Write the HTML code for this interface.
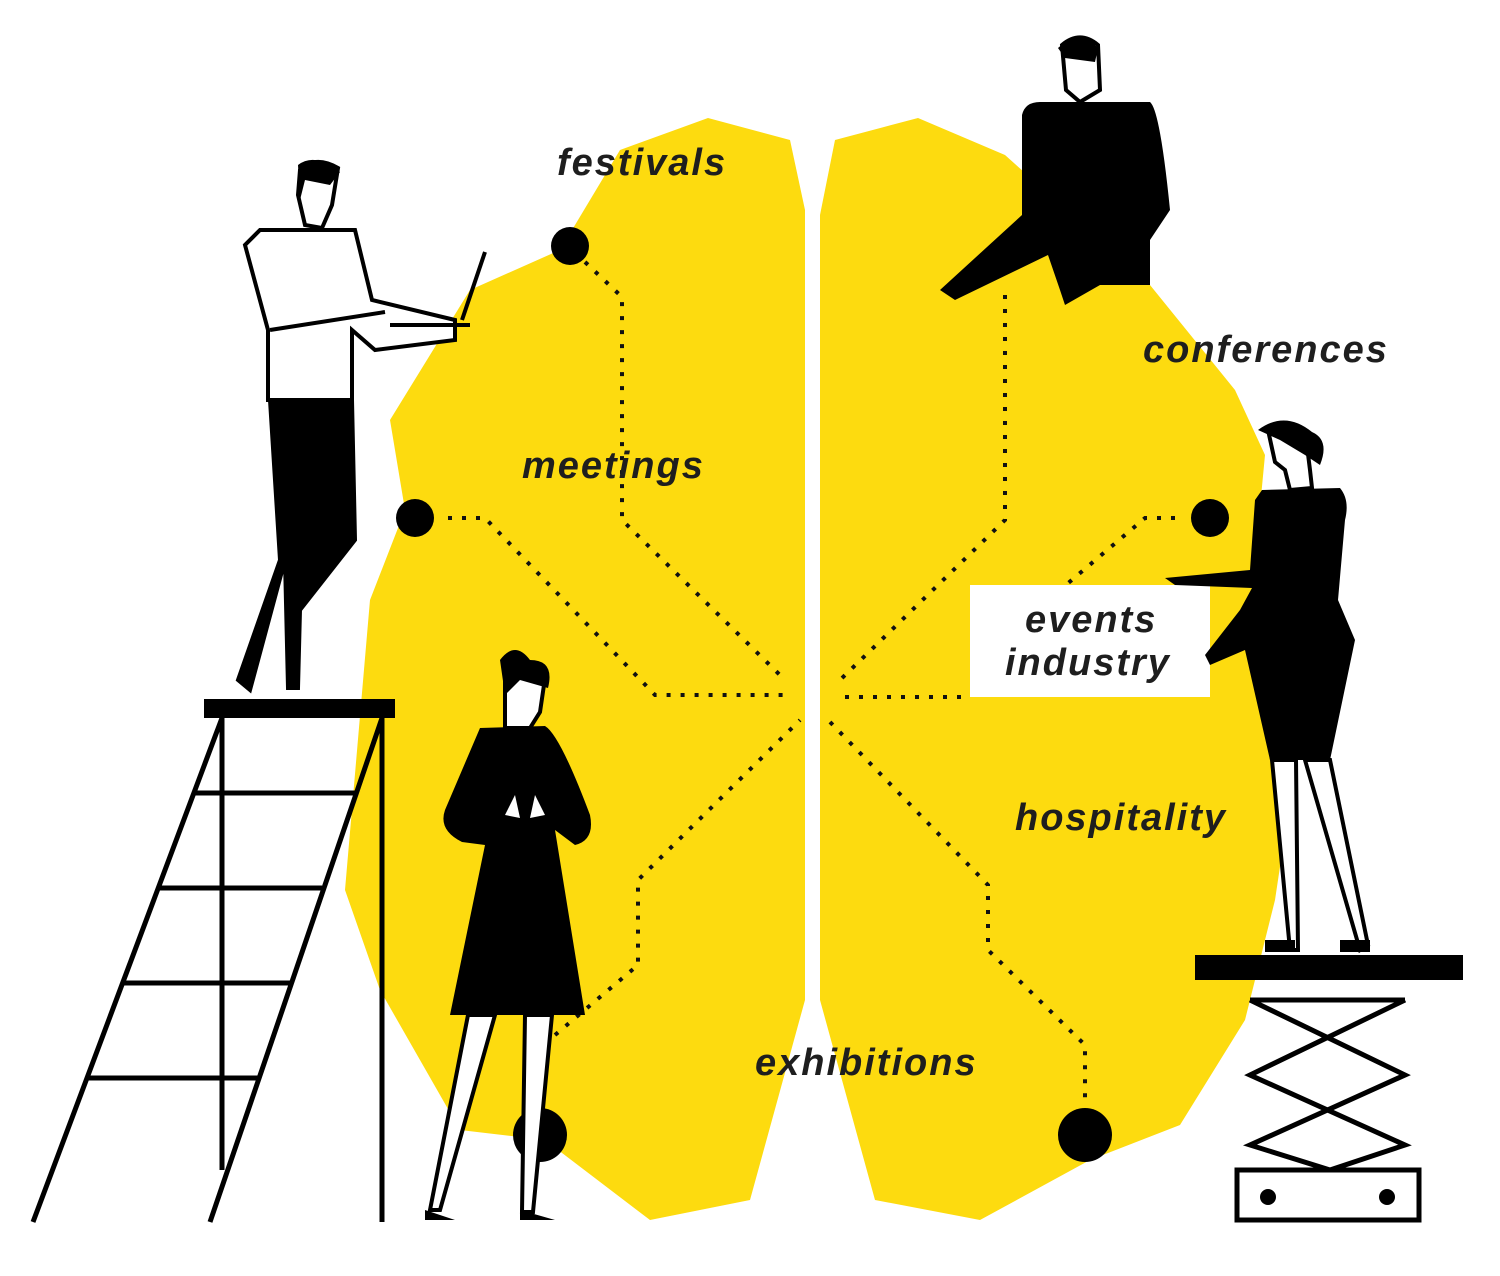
<!DOCTYPE html>
<html><head><meta charset="utf-8"><style>
html,body{margin:0;padding:0;background:#fff}
svg{display:block}
text{font-family:"Liberation Sans",sans-serif;font-weight:bold;font-style:italic;font-size:38px;fill:#1e1e1e;letter-spacing:2px}
</style></head><body>
<svg width="1500" height="1276" viewBox="0 0 1500 1276" xmlns="http://www.w3.org/2000/svg">
<polygon fill="#fddb0f" points="708,118 790,140 805,210 805,1000 750,1200 650,1220 545,1140 460,1130 380,990 345,890 370,600 405,510 390,420 470,290 560,250 620,150"/>
<polygon fill="#fddb0f" points="918,118 1005,155 1150,285 1235,390 1265,455 1255,560 1290,800 1275,900 1245,1020 1180,1125 1090,1160 980,1220 875,1200 820,1000 820,215 835,140"/>
<g fill="none" stroke="#111" stroke-width="4" stroke-dasharray="4 10">
<polyline points="585,262 622,297 622,520 785,680"/>
<polyline points="448,518 485,518 655,695 785,695"/>
<polyline points="555,1035 638,965 638,880 800,720"/>
<polyline points="1005,295 1005,520 840,680"/>
<polyline points="1175,518 1145,518 1060,590"/>
<polyline points="845,697 970,697"/>
<polyline points="830,722 988,885 988,950 1085,1045 1085,1105"/>
</g>
<circle cx="570" cy="246" r="19" fill="#000"/>
<circle cx="415" cy="518" r="19" fill="#000"/>
<circle cx="1210" cy="518" r="19" fill="#000"/>
<circle cx="540" cy="1135" r="27" fill="#000"/>
<circle cx="1085" cy="1135" r="27" fill="#000"/>
<rect x="970" y="585" width="240" height="112" fill="#fff"/>
<text x="1025" y="632">events</text>
<text x="1005" y="675">industry</text>
<text x="557" y="175">festivals</text>
<text x="522" y="478">meetings</text>
<text x="1143" y="362">conferences</text>
<text x="1015" y="830">hospitality</text>
<text x="755" y="1075">exhibitions</text>

<g stroke="#000" stroke-width="5" fill="none">
<line x1="222" y1="718" x2="222" y2="1170"/>
<line x1="382" y1="718" x2="382" y2="1222"/>
<line x1="222" y1="718" x2="33" y2="1222"/>
<line x1="382" y1="718" x2="210" y2="1222"/>
<line x1="193" y1="793" x2="355" y2="793"/>
<line x1="158" y1="888" x2="322" y2="888"/>
<line x1="122" y1="983" x2="290" y2="983"/>
<line x1="86" y1="1078" x2="258" y2="1078"/>
</g>
<rect x="204" y="699" width="191" height="19" fill="#000"/>
<g stroke="#000" stroke-width="4">
<path d="M270,400 L352,400 L355,540 L300,610 L298,688 L288,688 L285,560 L250,690 L238,680 L280,560 Z" fill="#000"/>
<path d="M268,400 L268,330 L245,245 L260,230 L355,230 L372,300 L455,320 L455,340 L375,350 L352,330 L352,400 Z" fill="#fff"/>
<line x1="270" y1="330" x2="385" y2="312"/>
<line x1="390" y1="325" x2="470" y2="325"/>
<line x1="462" y1="320" x2="485" y2="252"/>
</g>
<path d="M300,170 Q315,155 338,168 L332,205 L322,228 L305,225 L298,195 Z" fill="#fff" stroke="#000" stroke-width="4"/>
<path d="M298,165 Q315,152 340,172 L330,185 L305,180 L300,200 Z" fill="#000"/>
<path d="M1022,115 Q1025,102 1040,102 L1150,102 Q1160,110 1170,210 L1150,240 L1150,285 L1100,285 L1065,305 L1060,290 L1048,255 L955,300 L940,290 L1022,215 Z" fill="#000"/>
<path d="M1062,45 Q1080,30 1098,45 L1100,90 L1080,102 L1066,90 Z" fill="#fff" stroke="#000" stroke-width="4"/>
<path d="M1058,48 Q1080,28 1098,48 L1095,62 L1065,58 Z" fill="#000"/>
<g stroke="#000" stroke-width="4" fill="#fff">
<path d="M1272,760 L1290,950 L1298,950 L1296,760 Z"/>
<path d="M1305,760 L1360,950 L1368,945 L1330,760 Z"/>
</g>
<path d="M1262,490 L1340,488 Q1350,500 1345,520 L1338,600 L1355,640 L1330,760 L1270,760 L1245,650 L1210,665 L1205,655 L1240,610 L1252,588 L1175,585 L1165,578 L1250,570 L1255,500 Z" fill="#000"/>
<path d="M1268,430 Q1285,418 1305,430 L1310,470 L1312,488 L1290,490 L1285,470 L1275,462 Z" fill="#fff" stroke="#000" stroke-width="4"/>
<path d="M1258,430 Q1285,410 1312,432 Q1330,440 1320,465 L1305,455 L1280,440 Z" fill="#000"/>
<rect x="1265" y="940" width="30" height="12" fill="#000"/>
<rect x="1340" y="940" width="30" height="12" fill="#000"/>
<rect x="1195" y="955" width="268" height="25" fill="#000"/>
<g stroke="#000" stroke-width="5" fill="none">
<polyline points="1250,1000 1405,1075 1250,1145 1330,1170"/>
<polyline points="1405,1000 1250,1075 1405,1145 1330,1170"/>
<line x1="1250" y1="1000" x2="1405" y2="1000"/>
<rect x="1237" y="1170" width="182" height="50"/>
</g>
<circle cx="1268" cy="1197" r="8" fill="#000"/>
<circle cx="1387" cy="1197" r="8" fill="#000"/>
<g stroke="#000" stroke-width="4" fill="#fff">
<path d="M468,1015 L430,1210 L440,1210 L495,1015 Z"/>
<path d="M525,1015 L522,1212 L533,1212 L552,1015 Z"/>
</g>
<path d="M480,728 L545,726 Q560,735 590,815 Q595,840 575,845 L555,830 L585,1015 L450,1015 L485,845 L462,842 Q438,830 445,810 Z" fill="#000"/>
<path d="M515,795 L505,815 L520,818 Z M535,795 L545,815 L530,818 Z" fill="#fff"/>
<path d="M505,680 Q520,665 545,678 L540,712 L530,728 L505,728 Z" fill="#fff" stroke="#000" stroke-width="4"/>
<path d="M500,660 Q515,640 530,660 Q555,660 548,688 L520,680 L505,695 Z" fill="#000"/>
<path d="M425,1210 L455,1220 L425,1220 Z M520,1210 L555,1220 L520,1220 Z" fill="#000"/>
</svg>
</body></html>
